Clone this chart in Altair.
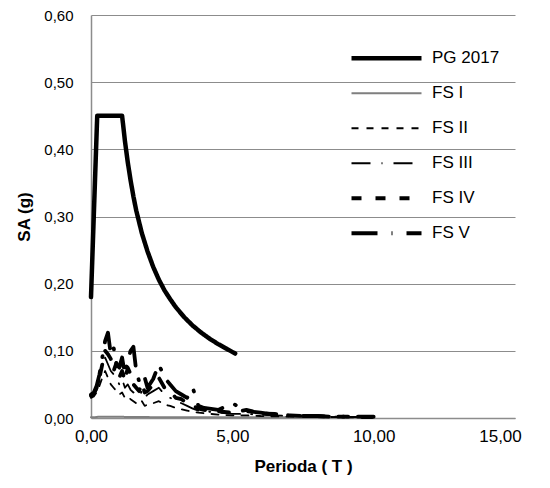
import altair as alt
import pandas as pd

# ---- data ----
series_names = ["PG 2017", "FS I", "FS II", "FS III", "FS IV", "FS V"]

pg_T = [0.0, 0.22, 1.1, 1.2, 1.3, 1.4, 1.5, 1.6, 1.8, 2.0, 2.2, 2.4, 2.6, 2.8,
        3.0, 3.3, 3.6, 3.9, 4.2, 4.5, 4.8, 5.1]
pg_SA = [0.18, 0.45, 0.45, 0.4125, 0.381, 0.354, 0.33, 0.309, 0.275, 0.248, 0.225,
         0.206, 0.19, 0.177, 0.165, 0.15, 0.1375, 0.127, 0.118, 0.11, 0.103, 0.096]

fs_T = [0.0, 0.1, 0.2, 0.3, 0.4, 0.5, 0.6, 0.7, 0.8, 0.9, 1.0, 1.1, 1.2, 1.3, 1.4,
        1.5, 1.6, 1.7, 1.8, 1.9, 2.0, 2.2, 2.4, 2.6, 2.8, 3.0, 3.2, 3.4, 3.6, 3.8,
        4.0, 4.5, 5.0, 5.5, 6.0, 6.5, 7.0, 7.5, 8.0, 8.5, 9.0, 9.5, 10.0]

fs1_SA = [0.001, 0.001, 0.0015, 0.002, 0.002, 0.002, 0.002, 0.002, 0.002, 0.002, 0.002,
          0.002, 0.0015, 0.0015, 0.0015, 0.0015, 0.0015, 0.0015, 0.0015, 0.0015, 0.0015,
          0.001, 0.001, 0.001, 0.001, 0.001, 0.001, 0.001, 0.001, 0.001, 0.001, 0.001,
          0.001, 0.001, 0.001, 0.001, 0.001, 0.001, 0.001, 0.001, 0.001, 0.001, 0.001]
fs2_SA = [0.03, 0.032, 0.038, 0.048, 0.06, 0.07, 0.06, 0.05, 0.045, 0.04, 0.035, 0.038,
          0.03, 0.032, 0.028, 0.025, 0.022, 0.02, 0.025, 0.018, 0.02, 0.022, 0.025,
          0.02, 0.018, 0.015, 0.013, 0.011, 0.009, 0.008, 0.007, 0.005, 0.004, 0.004,
          0.003, 0.0025, 0.002, 0.002, 0.0015, 0.0015, 0.001, 0.001, 0.001]
fs3_SA = [0.032, 0.034, 0.042, 0.055, 0.075, 0.09, 0.08, 0.07, 0.065, 0.06, 0.05,
          0.058, 0.045, 0.05, 0.042, 0.038, 0.035, 0.032, 0.04, 0.03, 0.035, 0.04,
          0.045, 0.035, 0.03, 0.025, 0.022, 0.018, 0.014, 0.011, 0.01, 0.008, 0.006,
          0.006, 0.005, 0.004, 0.003, 0.0025, 0.002, 0.002, 0.0015, 0.0015, 0.001]
fs4_SA = [0.033, 0.036, 0.045, 0.06, 0.08, 0.1, 0.095, 0.088, 0.07, 0.082, 0.06, 0.07,
          0.055, 0.075, 0.065, 0.05, 0.045, 0.04, 0.052, 0.038, 0.04, 0.05, 0.06,
          0.045, 0.04, 0.03, 0.028, 0.022, 0.018, 0.014, 0.012, 0.01, 0.008, 0.012,
          0.007, 0.006, 0.004, 0.003, 0.003, 0.002, 0.002, 0.0015, 0.0015]
fs5_SA = [0.035, 0.038, 0.048, 0.065, 0.09, 0.115, 0.127, 0.095, 0.105, 0.08, 0.075,
          0.09, 0.065, 0.085, 0.1, 0.106, 0.07, 0.055, 0.05, 0.06, 0.045, 0.058, 0.08,
          0.06, 0.05, 0.04, 0.035, 0.03, 0.045, 0.018, 0.015, 0.012, 0.022, 0.01,
          0.008, 0.005, 0.004, 0.003, 0.003, 0.002, 0.002, 0.002, 0.002]

x_ticks = [0, 5, 10, 15]
y_ticks = [0.0, 0.1, 0.2, 0.3, 0.4, 0.5, 0.6]

colors = ["#000000", "#7f7f7f", "#000000", "#000000", "#000000", "#000000"]
dashes = [[1, 0], [1, 0], [7, 8], [19, 11, 1, 11], [10, 14], [26, 14, 1, 14]]
widths = [4.5, 2, 1.8, 1.8, 3.8, 3.8]

# ---- table ----
rows = []
for t, v in zip(pg_T, pg_SA):
    rows.append({"T": t, "SA": v, "s": "PG 2017"})
for i, arr in enumerate([fs1_SA, fs2_SA, fs3_SA, fs4_SA, fs5_SA]):
    for t, v in zip(fs_T, arr):
        rows.append({"T": t, "SA": v, "s": series_names[i + 1]})
df = pd.DataFrame(rows)

fmt = "replace(format(datum.value, '.2f'), '.', ',')"

leg = alt.Legend(
    title=None, orient="none", legendX=258, legendY=26,
    symbolType="stroke", symbolSize=4900, labelFontSize=17,
    labelFont="Liberation Sans", labelColor="#000000", labelOffset=8,
    rowPadding=0, clipHeight=34.5,
)

chart = alt.Chart(df).mark_line(strokeCap="round", strokeJoin="round").encode(
    x=alt.X("T:Q", scale=alt.Scale(domain=[0, 15]),
            axis=alt.Axis(values=x_ticks, labelExpr=fmt, title="Perioda ( T )",
                          grid=False, ticks=False, labelFlush=False,
                          labelFontSize=17,
                          labelOffset={"condition": {"test": "datum.value == 15", "value": -15},
                                       "value": 0})),
    y=alt.Y("SA:Q", scale=alt.Scale(domain=[0, 0.6]),
            axis=alt.Axis(values=y_ticks, labelExpr=fmt, title="SA (g)",
                          grid=True, ticks=False, labelFontSize=15)),
    color=alt.Color("s:N", scale=alt.Scale(domain=series_names, range=colors), legend=leg),
    strokeDash=alt.StrokeDash("s:N", scale=alt.Scale(domain=series_names, range=dashes), legend=leg),
    strokeWidth=alt.StrokeWidth("s:N", scale=alt.Scale(type="ordinal", domain=series_names, range=widths), legend=leg),
    order="T:Q",
    detail="s:N",
).properties(
    width=424, height=403,
    autosize=alt.AutoSizeParams(type="none"),
    padding={"left": 91, "top": 15, "right": 35, "bottom": 70},
).configure_view(stroke=None).configure_axis(
    labelFont="Liberation Sans", labelColor="#000000",
    titleFont="Liberation Sans", titleFontSize=17, titleFontWeight="bold",
    titleColor="#000000", domainColor="#8c8c8c", gridColor="#8c8c8c",
    domainWidth=1.5, gridWidth=1,
).configure_axisY(titlePadding=10, labelPadding=18).configure_axisX(titlePadding=14, labelPadding=10)

chart.save("out.html", embed_options={"renderer": "svg", "actions": False})
